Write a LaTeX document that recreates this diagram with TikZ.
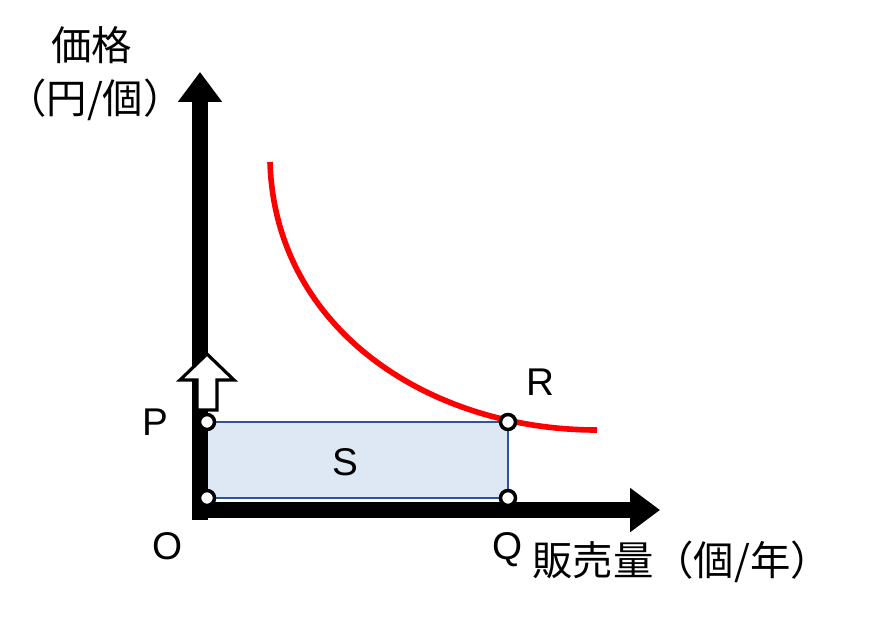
\documentclass[tikz,border=0pt]{standalone}
\usepackage{fontspec}
\setmainfont{Noto Sans CJK JP}
\newfontfamily\latinf{Liberation Sans}
\usetikzlibrary{arrows.meta}
\definecolor{boxfill}{HTML}{DEE8F4}
\definecolor{boxline}{HTML}{2F5597}
\begin{document}
\begin{tikzpicture}[x=0.02cm,y=-0.02cm,
  axis/.style={line width=0.32cm,-{Triangle[length=0.6cm,width=0.85cm]}},
  pt/.style={circle,draw=black,fill=white,line width=2pt,inner sep=0pt,minimum size=0.3cm},
  lbl/.style={font=\latinf\fontsize{22}{26}\selectfont,inner sep=0pt},
  jp/.style={font=\fontsize{23}{27}\selectfont,inner sep=0pt}]
\useasboundingbox (0,0) rectangle (870,626);
\coordinate (o) at (192,510);
\coordinate (ytop) at (200,72);
\coordinate (xend) at (660,510);
\draw[fill=boxfill,draw=boxline,line width=1.3pt] (207,422) rectangle (508,498);
\draw[axis] (200,520) -- (ytop);
\draw[axis] (o) -- (xend);
\draw[red,line width=3.2pt] (270,162) .. controls (275,330) and (430,430) .. (597,430);
\draw[fill=white,line width=1.8pt] (197,410) -- (197,380) -- (180,380) -- (207,354) -- (234,380) -- (217,380) -- (217,410) -- cycle;
\node[pt] (p) at (207,422) {};
\node[pt] (o2) at (207,498) {};
\node[pt] (r) at (508,422) {};
\node[pt] (q) at (508,498) {};
\node[lbl] (lp) at (155,422) {P};
\node[lbl] (lo) at (168,546) {O};
\node[lbl] (lq) at (508,550) {Q};
\node[lbl] (lr) at (540,382) {R};
\node[lbl] (ls) at (345,462) {S};
\node[jp] (t1) at (92,45) {価格};
\node[jp] (t2) at (95,100) {（円/個）};
\node[jp,anchor=west] (t3) at (532,562) {販売量（個/年）};
\end{tikzpicture}
\end{document}
